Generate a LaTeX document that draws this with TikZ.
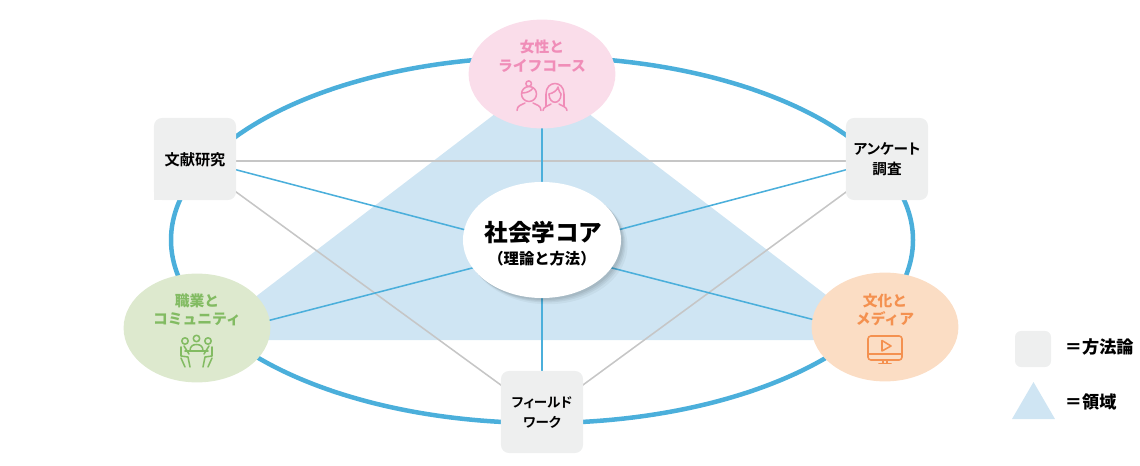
\documentclass[tikz,border=0pt]{standalone}
\usepackage{fontspec}
\setmainfont{Noto Sans CJK JP}
\newfontfamily\paltfont[RawFeature=+palt]{Noto Sans CJK JP Bold}
\usetikzlibrary{backgrounds,shadows,shapes.geometric}
\definecolor{ringblue}{HTML}{4BAFDB}
\definecolor{areablue}{HTML}{CFE5F3}
\definecolor{methodgray}{HTML}{EEEFEF}
\definecolor{linegray}{HTML}{C6C6C6}
\definecolor{pinkfill}{HTML}{FADDEA}
\definecolor{pinktext}{HTML}{F08DB8}
\definecolor{greenfill}{HTML}{DDE9CE}
\definecolor{greentext}{HTML}{82BB62}
\definecolor{orangefill}{HTML}{FBDDC4}
\definecolor{orangetext}{HTML}{F49150}
\tikzset{
  field/.style={ellipse,minimum width=3.67cm,minimum height=2.72cm,inner sep=0pt},
  fieldtext/.style={align=center,font=\fontsize{10.5}{13.2}\selectfont\bfseries},
  method/.style={rectangle,rounded corners=0.2cm,fill=methodgray,minimum width=2.05cm,minimum height=2.05cm,inner sep=0pt},
  methodtext/.style={align=center,font=\fontsize{10.4}{14.2}\selectfont\paltfont},
  core/.style={ellipse,fill=white,minimum width=3.95cm,minimum height=2.9cm,inner sep=0pt,
    drop shadow={shadow xshift=0.14cm,shadow yshift=-0.14cm,shadow scale=1.01,fill=black,opacity=0.04},
    drop shadow={shadow xshift=0.11cm,shadow yshift=-0.11cm,shadow scale=1.0,fill=black,opacity=0.05},
    drop shadow={shadow xshift=0.08cm,shadow yshift=-0.08cm,shadow scale=1.0,fill=black,opacity=0.05},
    drop shadow={shadow xshift=0.05cm,shadow yshift=-0.05cm,shadow scale=1.0,fill=black,opacity=0.06}},
  spoke/.style={ringblue,line width=1.1pt},
  graylink/.style={linegray,line width=1.1pt},
  icon/.style={line width=1.1pt,line cap=round,line join=round},
  legendtext/.style={font=\fontsize{12.2}{14}\selectfont\bfseries,anchor=west}
}
\begin{document}
\begin{tikzpicture}[x=0.025cm,y=-0.025cm]
  \useasboundingbox (0,0) rectangle (1140,466);

  \node [core] (soc) at (542,240) {};
  \node [font=\fontsize{16.8}{19}\selectfont\bfseries] (soctxt) at (543.5,232) {社会学コア};
  \node [font=\fontsize{10.9}{14}\selectfont\bfseries] (socsub) at (542,259) {（理論と方法）};

  \node [field,fill=pinkfill] (life) at (542,74) {};
  \node [field,fill=greenfill] (job) at (197,328) {};
  \node [field,fill=orangefill] (media) at (885,327) {};

  \node [method] (lit) at (195,159) {};
  \fill [methodgray] (154,185) rectangle (170,200);
  \node [method] (survey) at (887,159) {};
  \node [method] (work) at (542,412) {};
  \node [methodtext,font=\fontsize{10.8}{14.2}\selectfont\paltfont] (littxt) at (195,160) {文献研究};
  \node [methodtext] (surveytxt) at (887,159.5) {アンケート\\調査};
  \node [methodtext,font=\fontsize{9.6}{14.2}\selectfont\paltfont] (worktxt) at (542,412.5) {フィールド\\ワーク};

  \node [fieldtext,text=pinktext] (lifetxt) at (542,56) {女性と\\ライフコース};
  \node [fieldtext,text=greentext] (jobtxt) at (197,310) {職業と\\コミュニティ};
  \node [fieldtext,text=orangetext] (mediatxt) at (885,310) {文化と\\メディア};

  % women
  \begin{scope}[icon,pinktext]
    \draw (529,94) circle (7.5);
    \draw (528.7,83.7) circle (2.8);
    \draw (522,93) .. controls (527,93) and (531,91) .. (533,88);
    \draw (517,110.5) .. controls (517,105) and (522,105) .. (525,103);
    \draw (533,103) .. controls (536,105) and (541,105) .. (541,110.5);
    \draw (546,106) -- (546,94) .. controls (546,80) and (564,80) .. (564,94) -- (564,106);
    \draw (549,94) .. controls (553,93) and (557,91) .. (558,87) .. controls (559,91) and (560,93) .. (561,94);
    \draw (549,94) .. controls (549,105) and (561,105) .. (561,94);
    \draw (543,110.5) .. controls (543,107) and (548,106) .. (551,104);
    \draw (559,104) .. controls (562,106) and (567,107) .. (567,110.5);
  \end{scope}

  % meeting
  \begin{scope}[icon,greentext]
    \draw (185,341) circle (3.2);
    \draw (196.5,338.5) circle (3.2);
    \draw (208,341) circle (3.2);
    \draw (190,351) .. controls (190,346) and (193,344.5) .. (196.5,344.5) .. controls (200,344.5) and (203,346) .. (203,351);
    \draw (185,351) -- (208,351);
    \draw (181,347) -- (181,356) -- (188,357) -- (190,367);
    \draw (212,347) -- (212,356) -- (205,357) -- (203,367);
    \draw (184,346) -- (189,354);
    \draw (209,346) -- (204,354);
    \draw (181,358) -- (185,367);
    \draw (212,358) -- (208,367);
  \end{scope}

  % screen
  \begin{scope}[icon,orangetext]
    \draw [rounded corners=2pt] (868,336) rectangle (902,360);
    \draw (868,354) -- (902,354);
    \draw (882,340.5) -- (882,351) -- (891,346) -- cycle;
    \draw (883,360) -- (883,363) (887,360) -- (887,363);
    \draw (879,363.5) -- (891,363.5);
  \end{scope}

  % legend
  \node [rectangle,rounded corners=0.15cm,fill=methodgray,minimum width=0.9cm,minimum height=0.9cm,inner sep=0pt] (keymethod) at (1033,349) {};
  \node [legendtext] (keymethodtxt) at (1060,347) {＝方法論};
  \fill [areablue] (1033.5,382) -- (1055,419) -- (1012,419) -- cycle;
  \node [legendtext] (keyareatxt) at (1060,401.5) {＝領域};

  \coordinate (hub) at (542,250);
  \begin{scope}[on background layer]
    \draw [ringblue,line width=3.2pt] (542,240) ellipse (371 and 183);
    \fill [areablue] (542,78) -- (885,340) -- (199,340) -- cycle;
    \draw [graylink] ([shift={(0,2)}]lit.center) -- ([shift={(0,2)}]survey.center);
    \draw [graylink] ([shift={(0,3)}]lit.center) -- ([shift={(0,3)}]work.center);
    \draw [graylink] ([shift={(0,3)}]survey.center) -- ([shift={(0,3)}]work.center);
    \draw [spoke] (life.center) -- (work.center);
    \draw [spoke] (lit.center) -- (hub);
    \draw [spoke] (survey.center) -- (hub);
    \draw [spoke] ([shift={(0,11)}]job.center) -- (hub);
    \draw [spoke] ([shift={(0,11)}]media.center) -- (hub);
  \end{scope}
\end{tikzpicture}
\end{document}
